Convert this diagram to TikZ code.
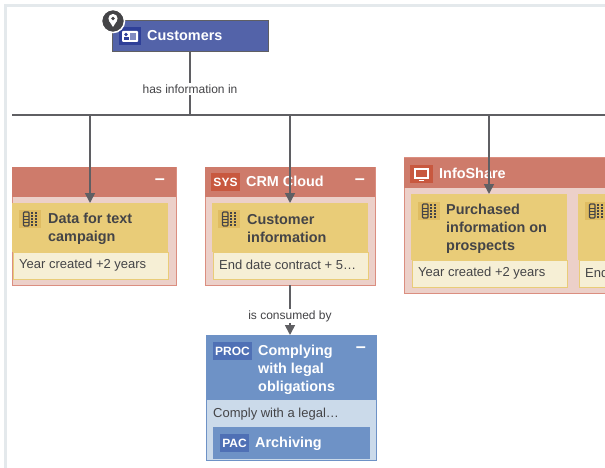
\documentclass[tikz,border=0pt]{standalone}
\usepackage{fontspec}
\setmainfont{Liberation Sans}
\usepackage{xcolor}
\usetikzlibrary{arrows.meta}

\definecolor{framegrey}{HTML}{E4E9EC}
\definecolor{linegrey}{HTML}{5F5F63}
\definecolor{textgrey}{HTML}{444447}
\definecolor{custblue}{HTML}{5363A9}
\definecolor{custdark}{HTML}{2E3F98}
\definecolor{syshead}{HTML}{CE7B6B}
\definecolor{sysbody}{HTML}{ECD0C9}
\definecolor{sysedge}{HTML}{DB8E80}
\definecolor{sysdark}{HTML}{C8583F}
\definecolor{datahead}{HTML}{E9CC78}
\definecolor{datadark}{HTML}{DFBC62}
\definecolor{databody}{HTML}{F6EFD5}
\definecolor{prochead}{HTML}{6E92C6}
\definecolor{procbody}{HTML}{CBDAEA}
\definecolor{procdark}{HTML}{4F70B5}

\tikzset{
  box/.style={inner sep=0pt,outer sep=0pt,anchor=north west},
  syspanel/.style={box,draw=sysedge,fill=sysbody,line width=1pt},
  syshdr/.style={box,fill=syshead},
  datacard/.style={box,fill=datahead},
  datanote/.style={box,draw=datahead,fill=databody,line width=1pt},
  procpanel/.style={box,draw=prochead,fill=procbody,line width=1pt},
  prochdr/.style={box,fill=prochead},
  badge/.style={box,text=white,font=\fontsize{12}{12}\selectfont\bfseries,align=center},
  title/.style={inner sep=0pt,anchor=west,font=\fontsize{14.4}{18}\selectfont\bfseries,align=left},
  whitetitle/.style={title,text=white},
  darktitle/.style={title,text=textgrey},
  note/.style={inner sep=0pt,anchor=west,text=textgrey,font=\fontsize{13}{16}\selectfont},
  linklabel/.style={fill=white,inner sep=1.5pt,text=textgrey,font=\fontsize{12}{14}\selectfont},
  minus/.style={inner sep=0pt,text=white,font=\fontsize{18}{18}\selectfont\bfseries},
  link/.style={draw=linegrey,line width=1.7pt},
  arrowlink/.style={link,-{Triangle[length=10pt,width=10pt]}},
  dataicon/.pic={
    \fill[datadark] (-11,-9) rectangle (11,9);
    \draw[textgrey,line width=1.1pt,rounded corners=1pt] (-6.5,-7) rectangle (-1,7);
    \draw[textgrey,line width=0.8pt] (-6.5,-3) -- (-1,-3) (-6.5,0) -- (-1,0) (-6.5,3) -- (-1,3);
    \draw[textgrey,line width=1.2pt,dash pattern=on 2pt off 1pt] (2,-7) -- (2,7) (6,-7) -- (6,7);
  }
}

\begin{document}
\begin{tikzpicture}[x=1pt,y=-1pt]
\useasboundingbox (0,0) rectangle (605,468);
\clip (0,0) rectangle (605,468);
\fill[white] (0,0) rectangle (605,468);
\fill[framegrey] (4,4) rectangle (605,7);
\fill[framegrey] (4,4) rectangle (7,468);

% top entity
\node[box,draw=linegrey,fill=custblue,line width=1pt,minimum width=156pt,minimum height=31pt] (customers) at (112,21) {};
\fill[custdark] (119,27) rectangle (141,45);
\fill[white,rounded corners=1pt] (122,31) rectangle (138,42);
\fill[custdark] (126,34.5) circle (1.8);
\fill[custdark] (123.5,40.5) rectangle (128.5,37.5);
\fill[custdark!60] (130,33.5) rectangle (136,40);
\node[whitetitle] (customerstxt) at (147,35.5) {Customers};
\fill[textgrey,draw=white,line width=1.5pt] (113,21) circle (11.5);
\fill[white] (113,18.5) circle (4.6);
\fill[white] (108.8,20.3) -- (113,27) -- (117.2,20.3) -- cycle;
\fill[textgrey] (113,18.5) circle (1.8);

% first panel
\node[syspanel,minimum width=164pt,minimum height=118pt] (panela) at (12,167) {};
\node[syshdr,minimum width=164pt,minimum height=30pt] (heada) at (12,167) {};
\node[minus] (minusa) at (160,182) {–};
\node[datacard,minimum width=156pt,minimum height=49pt] (carda) at (12,203) {};
\node[datanote,minimum width=155pt,minimum height=27pt] (notea) at (13,252) {};
\pic at (30,219) {dataicon};
\node[darktitle] (titlea) at (48,228.5) {Data for text\\campaign};
\node[note] (texta) at (19,265) {Year created +2 years};

% second panel
\node[syspanel,minimum width=170pt,minimum height=118pt] (panelb) at (205,167) {};
\node[syshdr,minimum width=170pt,minimum height=30pt] (headb) at (205,167) {};
\node[badge,fill=sysdark,minimum width=29pt,minimum height=18pt] (sysb) at (211,173) {SYS};
\node[whitetitle] (nameb) at (246,181.5) {CRM Cloud};
\node[minus] (minusb) at (360,182) {–};
\node[datacard,minimum width=156pt,minimum height=49pt] (cardb) at (212,203) {};
\node[datanote,minimum width=155pt,minimum height=27pt] (noteb) at (213,252) {};
\pic at (229,219) {dataicon};
\node[darktitle] (titleb) at (247,228.5) {Customer\\information};
\node[note] (textb) at (219,265) {End date contract + 5…};

% third panel
\node[syspanel,minimum width=210pt,minimum height=135pt] (panelc) at (404,158) {};
\node[syshdr,minimum width=210pt,minimum height=30pt] (headc) at (404,158) {};
\fill[sysdark] (410,165) rectangle (433,183);
\draw[white,line width=1.5pt,fill=sysdark] (415,169) rectangle (428,178);
\draw[white,line width=1.5pt] (419,180.5) -- (424,180.5);
\node[whitetitle] (namec) at (439,173.5) {InfoShare};
\node[datacard,minimum width=156pt,minimum height=66pt] (cardc) at (411,194) {};
\node[datanote,minimum width=155pt,minimum height=27pt] (notec) at (412,260) {};
\pic at (429,211) {dataicon};
\node[darktitle] (titlec) at (446,228.5) {Purchased\\information on\\prospects};
\node[note] (textc) at (418,273) {Year created +2 years};
\node[datacard,minimum width=40pt,minimum height=66pt] (cardd) at (578,194) {};
\node[datanote,minimum width=40pt,minimum height=27pt] (noted) at (579,260) {};
\pic at (596,211) {dataicon};
\node[note] (textd) at (585,273) {End};

% process panel
\node[procpanel,minimum width=170pt,minimum height=125pt] (panelp) at (206,335) {};
\node[prochdr,minimum width=170pt,minimum height=65pt] (headp) at (206,335) {};
\node[badge,fill=procdark,minimum width=39pt,minimum height=18pt] (procp) at (213,342) {PROC};
\node[whitetitle] (titlep) at (258,369.5) {Complying\\with legal\\obligations};
\node[minus] (minusp) at (361,350) {–};
\node[note] (textp) at (213,414) {Comply with a legal…};
\node[box,fill=prochead,minimum width=157pt,minimum height=32pt] (pac) at (213,427) {};
\node[badge,fill=procdark,minimum width=29pt,minimum height=18pt] (pacb) at (220,434) {PAC};
\node[whitetitle] (pact) at (255,443.5) {Archiving};

% connectors
\coordinate (busl) at (12,115);
\coordinate (busr) at (605,115);
\draw[link] (busl) -- (busr);
\draw[link] (customers.south) -- (customers.south |- busl) node[pos=0.59,linklabel] (haslabel) {has information in};
\draw[arrowlink] (carda.north |- busl) -- (carda.north);
\draw[arrowlink] (cardb.north |- busl) -- (cardb.north);
\draw[arrowlink] (cardc.north |- busl) -- (cardc.north);
\draw[arrowlink] (panelb.south -| cardb.north) -- (panelp.north -| cardb.north) node[pos=0.62,linklabel] (consumedlabel) {is consumed by};
\end{tikzpicture}
\end{document}
